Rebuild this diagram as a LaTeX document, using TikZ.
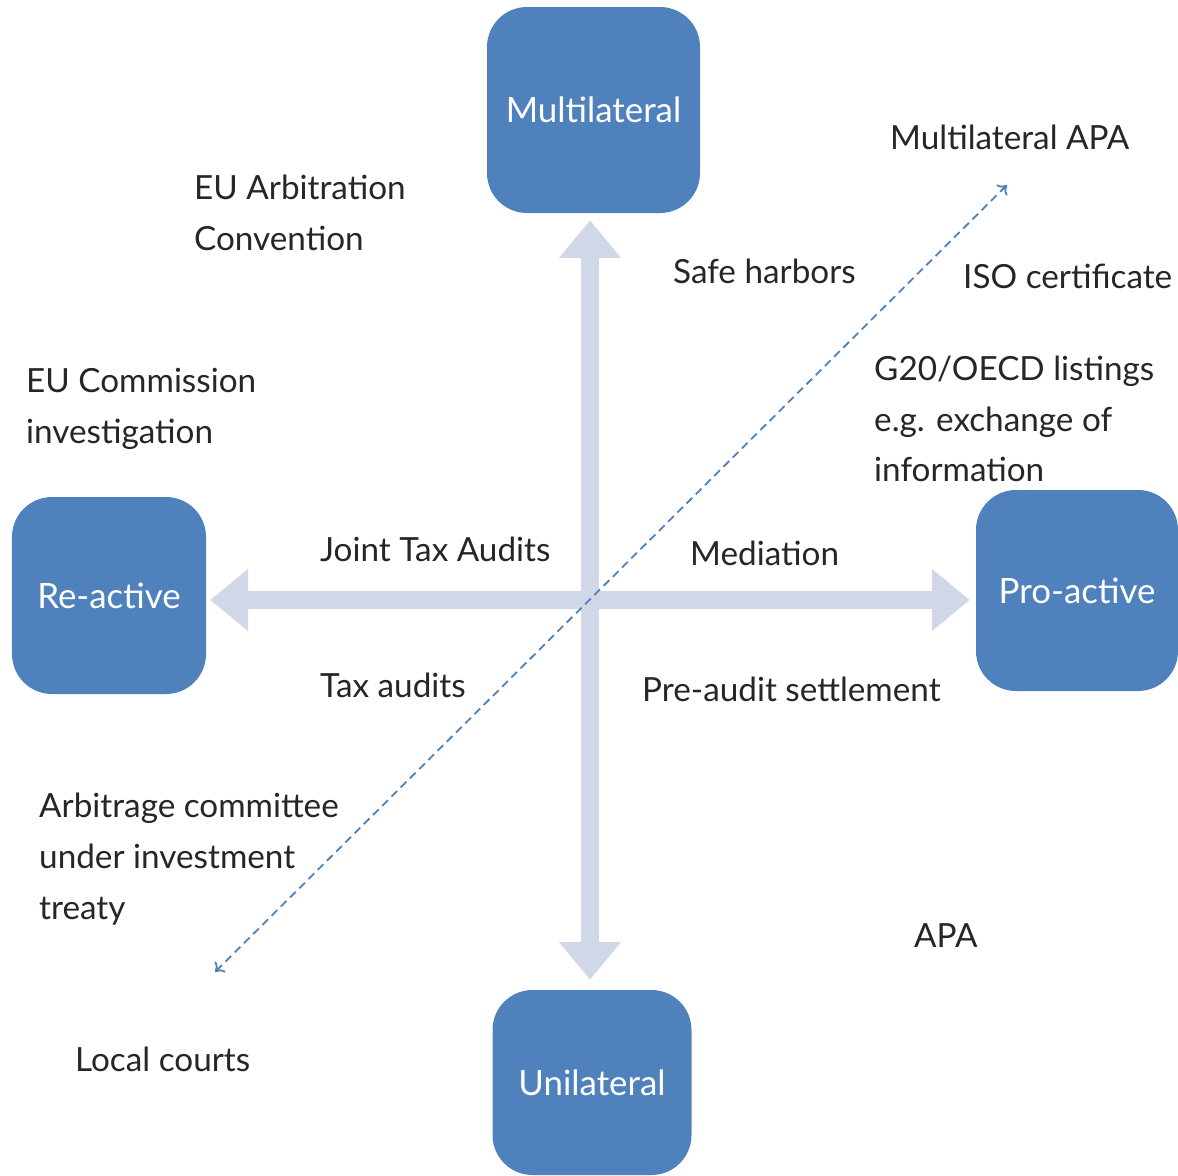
\documentclass[tikz,border=0pt]{standalone}
\usepackage{fontspec}
\setmainfont{Lato}
\usetikzlibrary{arrows.meta}
\definecolor{boxblue}{HTML}{4F81BD}
\definecolor{axiscol}{HTML}{D0D8E8}
\definecolor{txt}{HTML}{262626}
\tikzset{
  quad/.style={fill=boxblue, rounded corners=40bp, text=white, inner sep=0pt,
    font=\fontsize{35}{51}\selectfont},
  lbl/.style={text=txt, anchor=west, inner sep=0pt, align=left,
    font=\fontsize{33.4}{51}\selectfont},
  axis/.style={draw=axiscol, line width=18bp,
    {Triangle[length=38bp,width=60bp]}-{Triangle[length=38bp,width=60bp]}},
  diag/.style={draw=boxblue, line width=1.8bp, dash pattern=on 8bp off 5bp,
    {To[length=8bp,width=15bp]}-{To[length=8bp,width=15bp]}}
}
\begin{document}
\begin{tikzpicture}[x=1bp,y=-1bp]
\useasboundingbox (0,0) rectangle (1178,1176);
% boxes
\node[quad, minimum width=213bp, minimum height=206bp] (multi) at (593.5,110) {Multilateral};
\node[quad, minimum width=194bp, minimum height=197bp] (re) at (109,595.5) {Re-active};
\node[quad, minimum width=202bp, minimum height=201bp] (pro) at (1077,590.5) {Pro-active};
\node[quad, minimum width=199bp, minimum height=185bp] (uni) at (592,1082.5) {Unilateral};
\coordinate (c) at (590,600);
% axes
\draw[axis] ([yshift=-7bp]c |- multi.south) -- ([yshift=10bp]c |- uni.north);
\draw[axis] ([xshift=4bp]re.east |- c) -- ([xshift=-6bp]pro.west |- c);
% diagonal
\coordinate (dl) at (215,972);
\coordinate (dr) at (1007,185);
\draw[diag] (dl) -- (dr);
% labels
\node[lbl] (t1) at (194,212.5) {EU Arbitration\\Convention};
\node[lbl] (t2) at (26,408.5) {EU Commission\\investigation};
\node[lbl] (t3) at (890,137) {Multilateral APA};
\node[lbl] (t4) at (673,271) {Safe harbors};
\node[lbl] (t5) at (963,276) {ISO certificate};
\node[lbl] (t6) at (874,419) {G20/OECD listings\\e.g. exchange of\\information};
\node[lbl] (t7) at (320,549) {Joint Tax Audits};
\node[lbl] (t8) at (690,553) {Mediation};
\node[lbl] (t9) at (320,685) {Tax audits};
\node[lbl] (t10) at (642,689) {Pre-audit settlement};
\node[lbl] (t11) at (39,859) {Arbitrage committee\\under investment\\treaty};
\node[lbl] (t12) at (914,936) {APA};
\node[lbl] (t13) at (75,1059) {Local courts};
\end{tikzpicture}
\end{document}
